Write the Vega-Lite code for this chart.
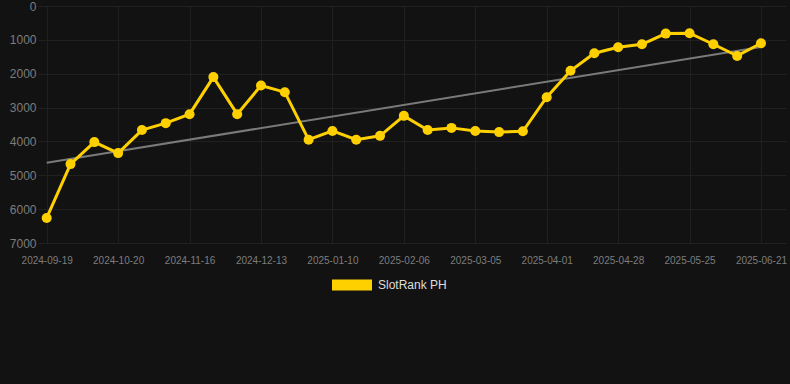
{
  "$schema": "https://vega.github.io/schema/vega-lite/v6.json",
  "width": 748,
  "height": 237,
  "autosize": {"type": "none"},
  "padding": {"left": 38, "top": 6, "right": 4, "bottom": 141},
  "background": "#121212",
  "config": {
    "font": "Liberation Sans",
    "view": {"stroke": null},
    "axis": {"gridColor": "#202020", "gridWidth": 1, "domain": false, "ticks": false, "labelColor": "#7d7d7d"}
  },
  "datasets": {
    "main": [
      {"i": 0, "date": "2024-09-19", "rank": 6260},
      {"i": 1, "date": "2024-09-29", "rank": 4670},
      {"i": 2, "date": "2024-10-09", "rank": 4020},
      {"i": 3, "date": "2024-10-20", "rank": 4345},
      {"i": 4, "date": "2024-10-29", "rank": 3665},
      {"i": 5, "date": "2024-11-07", "rank": 3460},
      {"i": 6, "date": "2024-11-16", "rank": 3195},
      {"i": 7, "date": "2024-11-25", "rank": 2100},
      {"i": 8, "date": "2024-12-04", "rank": 3195},
      {"i": 9, "date": "2024-12-13", "rank": 2350},
      {"i": 10, "date": "2024-12-22", "rank": 2545},
      {"i": 11, "date": "2024-12-31", "rank": 3950},
      {"i": 12, "date": "2025-01-10", "rank": 3690},
      {"i": 13, "date": "2025-01-19", "rank": 3950},
      {"i": 14, "date": "2025-01-28", "rank": 3835},
      {"i": 15, "date": "2025-02-06", "rank": 3245},
      {"i": 16, "date": "2025-02-15", "rank": 3660},
      {"i": 17, "date": "2025-02-24", "rank": 3600},
      {"i": 18, "date": "2025-03-05", "rank": 3690},
      {"i": 19, "date": "2025-03-14", "rank": 3725},
      {"i": 20, "date": "2025-03-23", "rank": 3700},
      {"i": 21, "date": "2025-04-01", "rank": 2695},
      {"i": 22, "date": "2025-04-10", "rank": 1915},
      {"i": 23, "date": "2025-04-19", "rank": 1395},
      {"i": 24, "date": "2025-04-28", "rank": 1220},
      {"i": 25, "date": "2025-05-07", "rank": 1130},
      {"i": 26, "date": "2025-05-16", "rank": 815},
      {"i": 27, "date": "2025-05-25", "rank": 805},
      {"i": 28, "date": "2025-06-03", "rank": 1130},
      {"i": 29, "date": "2025-06-12", "rank": 1475},
      {"i": 30, "date": "2025-06-21", "rank": 1100}
    ]
  },
  "data": {"name": "main"},
  "encoding": {
    "x": {
      "field": "date",
      "type": "ordinal",
      "sort": {"field": "i", "op": "min"},
      "scale": {"type": "point", "padding": 0.708, "align": 0.258},
      "axis": {
        "title": null,
        "labelAngle": 0,
        "labelFontSize": 10,
        "labelPadding": 12,
        "grid": true,
        "values": ["2024-09-19", "2024-10-20", "2024-11-16", "2024-12-13", "2025-01-10", "2025-02-06", "2025-03-05", "2025-04-01", "2025-04-28", "2025-05-25", "2025-06-21"]
      }
    },
    "y": {
      "field": "rank",
      "type": "quantitative",
      "scale": {"domain": [0, 7000], "reverse": true, "nice": false},
      "axis": {"title": null, "format": "d", "values": [0, 1000, 2000, 3000, 4000, 5000, 6000, 7000], "labelFontSize": 12, "labelPadding": 2, "grid": true}
    }
  },
  "layer": [
    {
      "transform": [
        {"regression": "rank", "on": "i", "method": "linear"},
        {"lookup": "i", "from": {"data": {"name": "main"}, "key": "i", "fields": ["date"]}}
      ],
      "mark": {"type": "line", "color": "#7a7a7a", "strokeWidth": 2}
    },
    {
      "mark": {"type": "line", "strokeWidth": 3},
      "encoding": {
        "color": {
          "datum": "SlotRank PH",
          "scale": {"range": ["#ffd000"]},
          "legend": {
            "title": null,
            "orient": "none",
            "legendX": 294,
            "legendY": 259,
            "padding": 0,
            "symbolType": "M-1,-0.275H1V0.275H-1Z",
            "symbolSize": 1600,
            "symbolStrokeWidth": 0,
            "symbolFillColor": "#ffd000",
            "labelFontSize": 12,
            "labelColor": "#dddddd",
            "labelOffset": 6
          }
        }
      }
    },
    {
      "mark": {"type": "point", "filled": true, "size": 100, "opacity": 1, "color": "#ffd000"}
    }
  ]
}
